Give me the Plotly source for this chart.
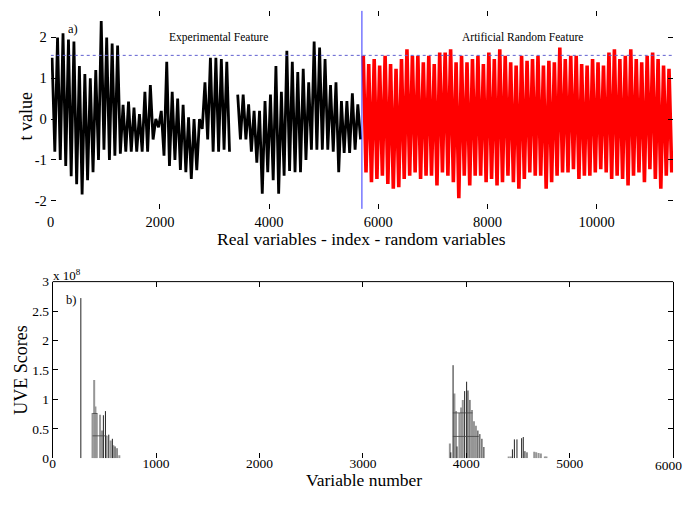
import plotly.graph_objects as go

# ---------------- data ----------------
# a) t values: per-100-variable envelope (upper / lower extremes)
bin_width = 100
real_bin_start = list(range(0, 5700, 100))
real_hi = [1.5, 2.0, 2.1, 1.95, 1.9, 1.3, 1.1, 1.0, 1.2, 2.4, 2.0, 1.85, 1.8, 0.35, 0.43, 0.28,
           0.12, 0.67, 0.83, 0.0, 0.2, 1.4, 0.67, 0.5, 0.35, 0.04, 0.0, 0.0, 0.9, 1.5, 1.5, 1.47,
           1.4, None, 0.6, 0.6, 0.36, 0.2, 0.2, 0.44, 0.6, 1.3, 0.67, 1.67, 1.4, 1.15, 1.23, 0.9,
           1.9, 1.75, 1.47, 0.83, 0.9, 0.44, 0.44, 0.63, 0.36]
real_lo = [-0.8, -1.0, -1.15, -1.4, -1.6, -1.85, -1.5, -1.3, -1.0, -0.75, -1.0, -0.9, -0.85, -0.8,
           -0.8, -0.8, -0.8, -0.8, -0.5, -0.2, -0.9, -1.15, -1.0, -1.25, -1.3, -1.47, -1.25, -0.24,
           -0.5, -0.8, -0.8, -0.75, -0.8, None, -0.5, -0.5, -0.8, -1.07, -1.83, -1.3, -1.5, -1.83,
           -1.39, -1.27, -1.3, -1.3, -1.0, -0.75, -0.75, -0.75, -0.75, -0.8, -1.3, -0.83, -0.83,
           -0.75, -0.5]
rand_bin_start = list(range(5700, 11400, 100))
rand_hi = [1.55, 1.35, 1.47, 1.31, 1.55, 1.35, 1.23, 1.47, 1.71, 1.55, 1.55, 1.39, 1.55, 1.35,
           1.63, 1.63, 1.71, 1.39, 1.55, 1.39, 1.47, 1.55, 1.35, 1.63, 1.47, 1.71, 1.55, 1.39,
           1.31, 1.55, 1.43, 1.47, 1.55, 1.31, 1.43, 1.39, 1.75, 1.47, 1.55, 1.55, 1.35, 1.31,
           1.47, 1.39, 1.31, 1.63, 1.71, 1.47, 1.55, 1.71, 1.47, 1.39, 1.55, 1.63, 1.47, 1.31, 1.23]
rand_lo = [-1.31, -1.55, -1.47, -1.39, -1.59, -1.71, -1.67, -1.47, -1.39, -1.31, -1.47, -1.39,
           -1.39, -1.63, -1.31, -1.39, -1.55, -1.94, -1.39, -1.63, -1.39, -1.39, -1.55, -1.47,
           -1.63, -1.55, -1.39, -1.55, -1.71, -1.47, -1.31, -1.39, -1.39, -1.71, -1.55, -1.39,
           -1.31, -1.31, -1.23, -1.47, -1.39, -1.39, -1.31, -1.23, -1.31, -1.47, -1.39, -1.47,
           -1.63, -1.39, -1.31, -1.55, -1.23, -1.47, -1.71, -1.39, -1.31]
t_threshold = 1.56
split_index = 5700
top_xticks = [0, 2000, 4000, 6000, 8000, 10000]
top_yticks = [-2, -1, 0, 1, 2]
top_ytick_text = ["-2", "-1", "0", "1", "2"]

# b) UVE scores (x 1e8)
stem_dark_x = [272, 490, 510, 542, 577, 603, 622, 3850, 3872, 3910, 3984, 4003, 4016, 4035,
               4112, 4131, 4151, 4170, 4446, 4465, 4490, 4535, 4551, 4567, 4587]
stem_dark_v = [2.72, 0.73, 0.80, 0.40, 0.33, 0.20, 0.17, 0.10, 1.58, 0.20, 1.14, 1.30, 1.15, 0.99,
               0.47, 0.41, 0.33, 0.19, 0.15, 0.32, 0.32, 0.34, 0.36, 0.12, 0.10]
stem_gray_x = [385, 401, 413, 426, 458, 477, 522, 561, 587, 644, 3841, 3885, 3900, 3933, 3950,
               3966, 4055, 4074, 4093, 4410, 4430, 4657, 4676, 4699, 4721, 4760, 4775]
stem_gray_v = [0.77, 1.33, 0.88, 0.77, 0.74, 0.47, 0.38, 0.30, 0.22, 0.05, 0.25, 1.10, 0.80, 0.77,
               0.86, 0.99, 0.82, 0.63, 0.55, 0.03, 0.03, 0.11, 0.10, 0.09, 0.08, 0.03, 0.03]
hseg_x0 = [385, 385, 3870, 3870]
hseg_x1 = [430, 520, 4060, 4120]
hseg_v = [0.76, 0.38, 0.77, 0.37]
bot_xticks = [0, 1000, 2000, 3000, 4000, 5000, 6000]
bot_yticks = [0, 0.5, 1, 1.5, 2, 2.5, 3]
bot_ytick_text = ["0", "0.5", "1", "1.5", "2", "2.5", "3"]

# ---------------- layout helpers ----------------
W, H = 690, 506
FONT = "Liberation Serif"


def vx(px):
    return px / W


def vy(py):
    return 1 - py / H


def zigzag(starts, hi, lo):
    xs, ys = [], []
    for s, h, l in zip(starts, hi, lo):
        if h is None:
            xs.append(None)
            ys.append(None)
            continue
        xs += [s + bin_width * 0.25, s + bin_width * 0.75]
        ys += [h, l]
    return xs, ys


def stems(xv, vv):
    xs, ys = [], []
    for x, v in zip(xv, vv):
        xs += [x, x, None]
        ys += [0, v, None]
    return xs, ys


fig = go.Figure()

rx, ry = zigzag(rand_bin_start, rand_hi, rand_lo)
fig.add_trace(go.Scatter(x=rx, y=ry, mode="lines",
                         line=dict(color="#ff0000", width=3.6, simplify=False),
                         xaxis="x", yaxis="y", showlegend=False, hoverinfo="skip"))
bx, by = zigzag(real_bin_start, real_hi, real_lo)
fig.add_trace(go.Scatter(x=bx, y=by, mode="lines",
                         line=dict(color="#000000", width=2.8, simplify=False),
                         xaxis="x", yaxis="y", showlegend=False, connectgaps=False, hoverinfo="skip"))

gx, gy = stems(stem_gray_x, stem_gray_v)
fig.add_trace(go.Scatter(x=gx, y=gy, mode="lines", line=dict(color="#969696", width=2),
                         xaxis="x2", yaxis="y2", showlegend=False))
dx, dy = stems(stem_dark_x, stem_dark_v)
fig.add_trace(go.Scatter(x=dx, y=dy, mode="lines", line=dict(color="#222222", width=1),
                         xaxis="x2", yaxis="y2", showlegend=False))
hx, hy = [], []
for a, b, v in zip(hseg_x0, hseg_x1, hseg_v):
    hx += [a, b, None]
    hy += [v, v, None]
fig.add_trace(go.Scatter(x=hx, y=hy, mode="lines", line=dict(color="#444444", width=0.8),
                         xaxis="x2", yaxis="y2", showlegend=False))

# threshold line, split line, top border of panel b
fig.add_shape(type="line", xref="x", yref="y", x0=0, x1=11400, y0=t_threshold, y1=t_threshold,
              line=dict(color="#6060d0", width=1, dash="dot"))
fig.add_shape(type="line", xref="x", yref="y domain", x0=split_index, x1=split_index, y0=0, y1=1,
              line=dict(color="#3333ff", width=1))
fig.add_shape(type="line", xref="x2 domain", yref="y2 domain", x0=0, x1=1, y0=1, y1=1,
              line=dict(color="black", width=1))

tick_common = dict(ticks="inside", ticklen=5, tickcolor="black", showgrid=False, zeroline=False,
                   mirror="ticks", showline=True)

# last bottom tick label is drawn as an annotation kept a little inside the page edge
bot_xtick_text = [str(v) for v in bot_xticks[:-1]] + [""]

fig.update_layout(
    width=W, height=H, margin=dict(l=0, r=0, t=0, b=0), autosize=False,
    paper_bgcolor="white", plot_bgcolor="white",
    font=dict(family=FONT, color="black"),
    xaxis=dict(domain=[vx(47), vx(673)], range=[0, 11400], anchor="y",
               tickvals=top_xticks, ticktext=[str(v) for v in top_xticks],
               linecolor="rgba(0,0,0,0)", tickfont=dict(size=14.5), **tick_common),
    yaxis=dict(domain=[vy(208), vy(4)], range=[-2.2, 2.65], anchor="x",
               tickvals=top_yticks, ticktext=top_ytick_text, linecolor="rgba(0,0,0,0)",
               tickfont=dict(size=14.5), **tick_common),
    xaxis2=dict(domain=[vx(49), vx(673)], range=[0, 6000], anchor="y2",
                tickvals=bot_xticks, ticktext=bot_xtick_text,
                linecolor="rgba(0,0,0,0)", tickfont=dict(size=13.5),
                ticklabelstandoff=-7, **tick_common),
    yaxis2=dict(domain=[vy(465), vy(283)], range=[0, 3], anchor="x2",
                tickvals=bot_yticks, ticktext=bot_ytick_text,
                linecolor="black", linewidth=1, tickfont=dict(size=13.5), **tick_common),
)

ann = [
    dict(text="a)", x=400, y=2.2, xref="x", yref="y", size=12.5),
    dict(text="Experimental Feature", x=3073, y=2.0, xref="x", yref="y", size=11.5),
    dict(text="Artificial Random Feature", x=8636, y=2.0, xref="x", yref="y", size=11.5),
    dict(text="b)", x=178, y=2.69, xref="x2", yref="y2", size=12.5),
]
for a in ann:
    fig.add_annotation(text=a["text"], x=a["x"], y=a["y"], xref=a["xref"], yref=a["yref"],
                       showarrow=False, font=dict(size=a["size"], family=FONT, color="black"))

titles = [
    dict(text="t value", x=22, y=113, angle=-90, size=18),
    dict(text="Real variables - index - random variables", x=360, y=239, angle=0, size=17.5),
    dict(text="UVE Scores", x=17, y=374, angle=-90, size=18),
    dict(text="Variable number", x=362, y=487, angle=0, size=17.5),
    dict(text="x 10<sup>8</sup>", x=63, y=276, angle=0, size=13),
    dict(text=str(bot_xticks[-1]), x=668, y=472, angle=0, size=13.5),
]
for t in titles:
    fig.add_annotation(text=t["text"], x=vx(t["x"]), y=vy(t["y"]), xref="paper", yref="paper",
                       showarrow=False, textangle=t["angle"], xanchor="center", yanchor="middle",
                       font=dict(size=t["size"], family=FONT, color="black"))

fig.write_html("out.html", config={"displayModeBar": False},
               post_script="document.documentElement.style.margin='0px';"
                           "document.body.style.margin='0px';"
                           "document.documentElement.style.overflow='hidden';"
                           "document.body.style.overflow='hidden';")
